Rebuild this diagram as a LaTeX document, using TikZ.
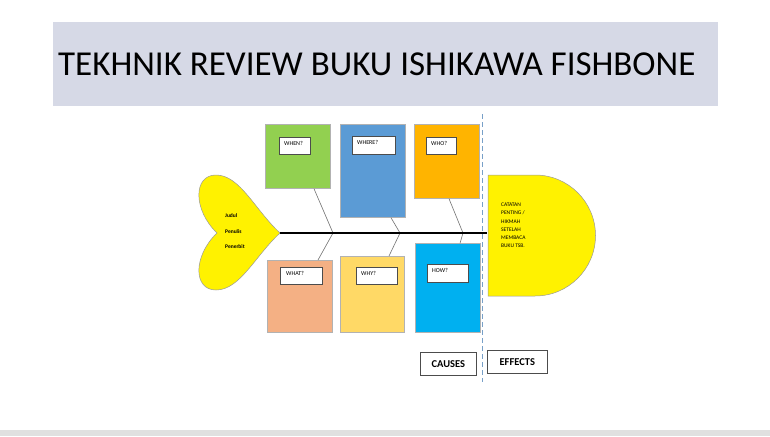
\documentclass[tikz,border=0pt]{standalone}
\usepackage{fontspec}
\setmainfont{Carlito}
\begin{document}
\begin{tikzpicture}[x=1pt,y=-1pt,
  bone/.style={draw=black!55,line width=0.6pt},
  card/.style={draw=black!30,line width=0.5pt},
  lbl/.style={draw=black!70,fill=white,line width=0.5pt,inner sep=0pt,anchor=north west},
  lt/.style={font=\fontsize{6}{7}\selectfont,anchor=north west,inner sep=0pt},
  tag/.style={draw=black!70,fill=white,line width=0.6pt,font=\bfseries\fontsize{10.5}{11}\selectfont,inner sep=0pt,anchor=north west}]
\useasboundingbox (0,0) rectangle (770,436);
\fill[white] (0,0) rectangle (770,436);
\fill[black!12] (0,430) rectangle (770,436);
\fill[fill={rgb,255:red,214;green,217;blue,230}] (53,22) rectangle (718,106);
\node[anchor=west,font=\fontsize{35}{38}\selectfont,inner sep=0pt] (title) at (58,64) {TEKHNIK REVIEW BUKU ISHIKAWA FISHBONE};
% heart
\draw[fill=yellow,draw=black!40,line width=0.5pt] (280,233) .. controls (255,210) and (240,175) .. (216,175) .. controls (193,175) and (193,210) .. (217,233) .. controls (193,256) and (193,290) .. (216,290) .. controls (240,290) and (255,256) .. (280,233) -- cycle;
\node[font=\bfseries\fontsize{5.5}{6}\selectfont,anchor=west,inner sep=0pt] (j) at (225,216) {Judul};
\node[font=\bfseries\fontsize{5.5}{6}\selectfont,anchor=west,inner sep=0pt] (p) at (225,231.5) {Penulis};
\node[font=\bfseries\fontsize{5.5}{6}\selectfont,anchor=west,inner sep=0pt] (pb) at (225,247) {Penerbit};
% effect
\draw[fill=yellow,draw=black!40,line width=0.5pt] (488,175) -- (535,175) arc[start angle=-90,end angle=90,radius=60.5] -- (488,296) -- cycle;
\node[font=\fontsize{5.5}{8.2}\selectfont,align=left,anchor=north west,inner sep=0pt] (eff) at (501,203) {CATATAN\\PENTING /\\HIKMAH\\SETELAH\\MEMBACA\\BUKU TSB.};
% boxes
\fill[card,fill={rgb,255:red,146;green,208;blue,80}] (265.7,124) rectangle (330,188.7);
\fill[card,fill={rgb,255:red,91;green,155;blue,213}] (340,124) rectangle (405.7,217.7);
\fill[card,fill={rgb,255:red,255;green,180;blue,0}] (414,124.7) rectangle (479,198.7);
\fill[card,fill={rgb,255:red,244;green,176;blue,132}] (267.3,260) rectangle (332.7,332);
\fill[card,fill={rgb,255:red,255;green,217;blue,102}] (340,256) rectangle (404,332);
\fill[card,fill={rgb,255:red,0;green,176;blue,240}] (415.7,243.3) rectangle (480,332);
% bones
\coordinate (s1) at (333,233);\coordinate (s2) at (400,233);\coordinate (s3) at (463,233);
\coordinate (t1) at (314,188.7);\coordinate (t2) at (391,217.7);\coordinate (t3) at (449,198.7);
\coordinate (b1) at (318,260);\coordinate (b2) at (389,256);\coordinate (b3) at (460,243.3);
\draw[bone] (t1)--(s1)--(b1); \draw[bone] (t2)--(s2)--(b2); \draw[bone] (t3)--(s3)--(b3);
\coordinate (sa) at (280,233);\coordinate (sb) at (487,233);
\draw[line width=1.6pt] (sa)--(sb);
% dashed
\coordinate (d1) at (482.7,114);\coordinate (d2) at (482.7,382);
\draw[draw={rgb,255:red,120;green,160;blue,200},line width=1pt,dash pattern=on 5pt off 3pt] (d1)--(d2);
% labels
\node[lbl,minimum width=31pt,minimum height=17pt] (when) at (279,137) {};
\node[lt] at (284,141) {WHEN?};
\node[lbl,minimum width=43pt,minimum height=18pt] (where) at (352,136) {};
\node[lt] at (357,140.5) {WHERE?};
\node[lbl,minimum width=30pt,minimum height=17pt] (who) at (426,137) {};
\node[lt] at (431,141) {WHO?};
\node[lbl,minimum width=42pt,minimum height=17pt] (what) at (280,267) {};
\node[lt] at (286,271) {WHAT?};
\node[lbl,minimum width=41pt,minimum height=17pt] (why) at (356,267) {};
\node[lt] at (361,271) {WHY?};
\node[lbl,minimum width=41pt,minimum height=18pt] (how) at (427,264) {};
\node[lt] at (432,268.5) {HOW?};
\node[tag,minimum width=56pt,minimum height=23pt] (causes) at (420,352) {CAUSES};
\node[tag,minimum width=60pt,minimum height=23pt] (effects) at (487,350) {EFFECTS};
\end{tikzpicture}
\end{document}
